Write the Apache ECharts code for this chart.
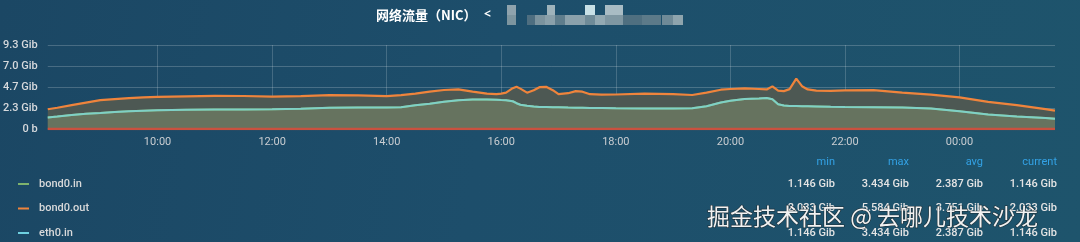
<!DOCTYPE html>
<html>
<head>
<meta charset="utf-8">
<script src="https://cdn.jsdelivr.net/npm/echarts@6/dist/echarts.min.js"></script>
<style>
html,body{margin:0;padding:0;width:1080px;height:242px;overflow:hidden;
background:linear-gradient(100deg,#1b4764 0%,#1d4e6b 45%,#1e546c 100%);}
#chart{width:1080px;height:242px;}
</style>
</head>
<body>
<div id="chart"></div>
<script>
// ---- data (Gib) ----
const times = ["08:05","08:15","08:30","08:45","09:00","09:15","09:30","09:45","10:00","10:30",
"11:00","11:30","12:00","12:30","13:00","13:30","14:00","14:15","14:30","14:45",
"15:00","15:15","15:30","15:45","15:55","16:00","16:05","16:12","16:16","16:20",
"16:27","16:34","16:40","16:47","16:54","17:00","17:10","17:18","17:25","17:33",
"17:45","18:00","18:30","19:00","19:20","19:35","19:50","20:00","20:15","20:30",
"20:38","20:44","20:50","20:56","21:02","21:09","21:15","21:21","21:30","21:45",
"22:00","22:30","23:00","23:30","00:00","00:30","01:00","01:30","01:40"];
const bond0Out = [2.19,2.36,2.64,2.92,3.20,3.31,3.42,3.50,3.56,3.62,
3.67,3.66,3.59,3.64,3.75,3.73,3.64,3.75,3.92,4.14,
4.33,4.39,4.14,3.92,3.86,3.92,4.03,4.53,4.68,4.48,
4.03,4.31,4.64,4.68,4.31,3.86,3.97,4.20,4.14,3.86,
3.81,3.83,3.92,3.86,3.77,4.03,4.36,4.44,4.50,4.44,
4.39,4.73,4.25,4.20,4.42,5.584,4.75,4.39,4.25,4.23,
4.28,4.31,4.03,3.81,3.50,3.00,2.64,2.20,2.033];
const eth0In = [1.27,1.38,1.55,1.69,1.78,1.88,1.97,2.03,2.08,2.13,
2.16,2.16,2.19,2.24,2.36,2.38,2.38,2.42,2.64,2.81,
3.03,3.20,3.27,3.27,3.25,3.22,3.20,3.08,2.86,2.69,
2.58,2.49,2.45,2.44,2.42,2.42,2.38,2.36,2.36,2.34,
2.33,2.30,2.27,2.27,2.30,2.53,2.94,3.14,3.33,3.39,
3.434,3.31,2.75,2.61,2.56,2.55,2.53,2.53,2.51,2.47,
2.45,2.42,2.38,2.27,1.97,1.60,1.39,1.21,1.146];
const bond0In = eth0In.slice(); // bond0.in carries the same traffic as eth0.in
const eth0Out = times.map(() => 0);
const xTickLabels = ["10:00","12:00","14:00","16:00","18:00","20:00","22:00","00:00"];
const yTicks = [0, 2.33, 4.66, 6.99, 9.32];
const seriesNames = ["bond0.in","bond0.out","eth0.in"];
const seriesColors = ["#7eb26d","#ef843c","#6ed0e0"];
const statHeaders = ["min","max","avg","current"];
const statRows = [
  ["1.146 Gib","3.434 Gib","2.387 Gib","1.146 Gib"],
  ["2.033 Gib","5.584 Gib","3.751 Gib","2.033 Gib"],
  ["1.146 Gib","3.434 Gib","2.387 Gib","1.146 Gib"]
];
const titleText = "网络流量（NIC）";
const watermarkText = "掘金技术社区 @ 去哪儿技术沙龙";

// ---- helpers: clock time -> minutes since midnight of the first day ----
function toMin(s){
  const [h,m] = s.split(":").map(Number);
  return (h < 8 ? h + 24 : h) * 60 + m;
}
const mins = times.map(toMin);
const tickMins = xTickLabels.map(toMin);
const pair = arr => arr.map((v,i)=>[mins[i],v]);
const pad = n => (n<10?"0":"")+n;
const fmt = v => pad(Math.floor(v/60)%24)+':'+pad(Math.round(v%60));

const chart = echarts.init(document.getElementById('chart'), null, {renderer:'canvas'});

const graphics = [];
graphics.push({type:'text', left:376, top:9, style:{text:titleText, fill:'#ffffff',
  font:'bold 13px "Noto Sans CJK SC", sans-serif'}});
graphics.push({type:'text', left:484, top:9, style:{text:'<', fill:'#ffffff',
  font:'bold 12px "Noto Sans", sans-serif'}});
const mosaic = [
 [507,5,9,10,'#8fa3ad'],[547,5,8,10,'#9fb3bb'],[585,5,10,10,'#c8e0e6'],[605,5,18,10,'#a9bcc4'],
 [507,15,9,10,'#7d959f'],[527,15,8,10,'#4e6e80'],[535,15,10,10,'#7b939e'],[545,15,10,10,'#8aa0aa'],
 [555,15,10,10,'#5f7d8c'],[565,15,20,10,'#8ba1ab'],[585,15,10,10,'#6f8b98'],[595,15,10,10,'#93a9b2'],
 [605,15,18,10,'#7f97a2'],[623,15,19,10,'#4f6f80'],[642,15,19,10,'#5c7a89'],[662,15,11,10,'#6f8a97'],
 [673,15,10,10,'#8ea4ad']
];
mosaic.forEach(b=>graphics.push({type:'rect', shape:{x:b[0],y:b[1],width:b[2],height:b[3]}, style:{fill:b[4]}}));
seriesNames.forEach((n,i)=>{
  const y = 184 + i*24.5;
  graphics.push({type:'rect', shape:{x:18,y:y-1,width:11,height:2}, style:{fill:seriesColors[i]}});
  graphics.push({type:'text', x:39, y:y, style:{text:n, fill:'#d8d9da', verticalAlign:'middle',
    font:'500 11px Roboto, sans-serif'}});
});
const colRight = [835, 909, 983, 1057];
statHeaders.forEach((h,j)=>{
  graphics.push({type:'text', x:colRight[j], y:162, style:{text:h, fill:'#33a2e5', align:'right',
    verticalAlign:'middle', font:'11px Roboto, sans-serif'}});
});
statRows.forEach((row,i)=>{
  row.forEach((v,j)=>{
    graphics.push({type:'text', x:colRight[j], y:184+i*24.5, style:{text:v, fill:'#e4e4e4', align:'right',
      verticalAlign:'middle', font:'500 11px Roboto, sans-serif'}});
  });
});
graphics.push({type:'text', x:707, y:216, z:100, style:{text:watermarkText, fill:'#f2f2f2',
  verticalAlign:'middle', font:'23px "Noto Sans CJK SC", sans-serif',
  stroke:'rgba(30,30,30,0.7)', lineWidth:1.2,
  shadowColor:'rgba(0,0,0,0.6)', shadowBlur:2, shadowOffsetX:1, shadowOffsetY:1}});

const option = {
  backgroundColor:'transparent',
  animation:false,
  grid:{left:47, right:25, top:45, height:84},
  xAxis:{
    type:'value',
    min:mins[0], max:mins[mins.length-1],
    axisLine:{show:false},
    axisTick:{show:false, customValues:tickMins},
    splitLine:{show:true, lineStyle:{color:'rgba(255,255,255,0.18)', width:1}},
    axisLabel:{customValues:tickMins, color:'#c9cdd1', fontSize:11, fontFamily:'Roboto', margin:8,
      formatter:fmt}
  },
  yAxis:{
    type:'value', min:0, max:yTicks[yTicks.length-1], interval:yTicks[1],
    axisLine:{show:false}, axisTick:{show:false},
    splitLine:{show:true, lineStyle:{color:'rgba(255,255,255,0.2)', width:1}},
    axisLabel:{color:'#d6d9dc', fontSize:11, fontFamily:'Roboto', fontWeight:500, margin:10,
      formatter:v=> v===0 ? '0 b' : v.toFixed(1)+' Gib'}
  },
  series:[
    {name:'bond0.out', type:'line', data:pair(bond0Out), showSymbol:false, z:2,
      lineStyle:{color:seriesColors[1], width:2.2}, itemStyle:{color:seriesColors[1]},
      areaStyle:{color:'#4d5853', opacity:1}},
    {name:'bond0.in', type:'line', data:pair(bond0In), showSymbol:false, z:3,
      lineStyle:{color:seriesColors[0], width:2}, itemStyle:{color:seriesColors[0]},
      areaStyle:{color:'#66735f', opacity:1}},
    {name:'eth0.in', type:'line', data:pair(eth0In), showSymbol:false, z:4,
      lineStyle:{color:'#7fd0c6', width:2}, itemStyle:{color:seriesColors[2]}},
    {name:'eth0.out', type:'line', data:pair(eth0Out), showSymbol:false, z:5,
      lineStyle:{color:'#c9513f', width:2.5}, itemStyle:{color:'#c9513f'}}
  ],
  graphic:graphics
};
chart.setOption(option);
</script>
</body>
</html>
